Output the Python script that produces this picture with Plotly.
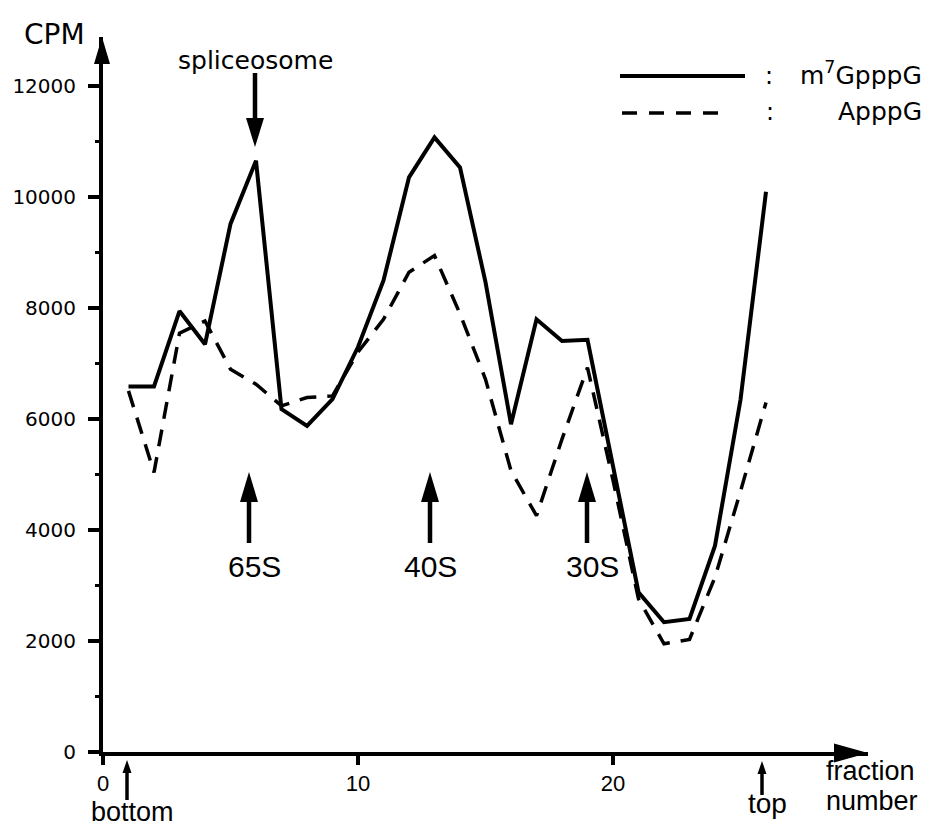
import plotly.graph_objects as go

# ---------------- data ----------------
fractions = list(range(1, 27))
m7GpppG = [6590, 6590, 7950, 7350, 9520, 10660, 6180, 5880, 6360, 7300,
           8500, 10360, 11080, 10540, 8470, 5910, 7800, 7410, 7430, 5160,
           2880, 2340, 2400, 3720, 6350, 10100]
ApppG = [6510, 5040, 7550, 7770, 6900, 6630, 6240, 6390, 6420, 7210,
         7800, 8650, 8950, 7900, 6720, 5070, 4260, 5640, 6930, 4900,
         2760, 1950, 2030, 3150, 4700, 6300]
y_tick_vals = [0, 2000, 4000, 6000, 8000, 10000, 12000]
x_tick_vals = [0, 10, 20]
series_names = ["m<sup>7</sup>GpppG", "ApppG"]
marker_labels = ["65S", "40S", "30S"]

# ---------------- geometry ----------------
W, H = 933, 827
ML, MR, MT, MB = 103, 65, 37, 75
X_MAX = 30
Y_MAX = 12890
PW = W - ML - MR
PH = H - MT - MB


def pxp(px):  # pixel x -> paper
    return (px - ML) / PW


def pyp(py):  # pixel y -> paper
    return (H - MB - py) / PH


BLACK = "black"
FONT_W = "DejaVu Sans"
FONT_N = "Liberation Sans, Arial, sans-serif"

fig = go.Figure()
fig.add_trace(go.Scatter(x=fractions, y=m7GpppG, mode="lines",
                         line=dict(color=BLACK, width=4),
                         name="m7GpppG", showlegend=False))
fig.add_trace(go.Scatter(x=fractions, y=ApppG, mode="lines",
                         line=dict(color=BLACK, width=3.5, dash="17px,11px"),
                         name="ApppG", showlegend=False))

shapes = []
annotations = []


def head(tipx, tipy, direction, length, width):
    hw = width / 2
    if direction == "up":
        path = f"M0,0 L{-hw},{-length} L{hw},{-length} Z"
    elif direction == "down":
        path = f"M0,0 L{-hw},{length} L{hw},{length} Z"
    else:  # right
        path = f"M0,0 L{-length},{hw} L{-length},{-hw} Z"
    shapes.append(dict(type="path", xref="paper", yref="paper",
                       xsizemode="pixel", ysizemode="pixel",
                       xanchor=pxp(tipx), yanchor=pyp(tipy), path=path,
                       fillcolor=BLACK, line=dict(width=0), layer="above"))


def shaft(x0, y0, x1, y1, w=4, dash=None):
    ln = dict(color=BLACK, width=w)
    if dash:
        ln["dash"] = dash
    shapes.append(dict(type="line", xref="paper", yref="paper",
                       x0=pxp(x0), y0=pyp(y0), x1=pxp(x1), y1=pyp(y1),
                       line=ln, layer="above"))


def text(t, px, py, size, family=FONT_N, xanchor="center"):
    annotations.append(dict(text=t, x=pxp(px), y=pyp(py), xref="paper", yref="paper",
                            showarrow=False, xanchor=xanchor, yanchor="middle",
                            font=dict(family=family, size=size, color=BLACK)))


# axis arrow heads
head(ML + PW, H - MB + 1, "right", 34, 19)
head(ML - 1, MT, "up", 27, 16)

# spliceosome arrow
shaft(255, 73, 255, 122, 4.5)
head(255, 147, "down", 29, 18)
text("spliceosome", 255, 61, 25, FONT_W)

# 65S / 40S / 30S arrows
for lab, ax_px, tx_px in zip(marker_labels, [249, 430, 587], [254, 430, 592]):
    shaft(ax_px, 498, ax_px, 543, 4.5)
    head(ax_px, 472, "up", 30, 18)
    text(lab, tx_px, 566, 30)

# bottom / top arrows
shaft(127, 768, 127, 800, 3.5)
head(127, 760, "up", 13, 9)
text("bottom", 132, 812, 27)
shaft(762, 770, 762, 795, 3.5)
head(762, 761, "up", 13, 9)
text("top", 767, 803, 28)
text("fraction", 870, 771, 27)
text("number", 872, 801, 27)

# CPM
text("CPM", 54, 34, 28, FONT_W)

# legend
shaft(620, 76, 745, 76, 4)
shaft(622, 113, 727, 113, 3.5, dash="15px,12px")
text(":", 769, 76, 24, FONT_W)
text(":", 770, 112, 24, FONT_W)
text(series_names[0], 924, 74, 25, FONT_W, xanchor="right")
text(series_names[1], 924, 111, 25, FONT_W, xanchor="right")

fig.update_layout(
    width=W, height=H, template="none",
    margin=dict(l=ML, r=MR, t=MT, b=MB, autoexpand=False),
    paper_bgcolor="white", plot_bgcolor="white",
    showlegend=False,
    shapes=shapes, annotations=annotations,
    xaxis=dict(range=[0, X_MAX], tickvals=x_tick_vals, ticktext=[str(v) for v in x_tick_vals],
               showgrid=False, zeroline=False, showline=True, linewidth=4, linecolor=BLACK,
               ticks="outside", ticklen=9, tickwidth=3.5, tickcolor=BLACK,
               tickfont=dict(family=FONT_N, size=22, color=BLACK),
               ticklabelstandoff=0, automargin=False, fixedrange=True),
    yaxis=dict(range=[0, Y_MAX], tickvals=y_tick_vals, ticktext=[str(v) for v in y_tick_vals],
               showgrid=False, zeroline=False, showline=True, linewidth=4, linecolor=BLACK,
               ticks="outside", ticklen=11, tickwidth=3.5, tickcolor=BLACK,
               tickfont=dict(family=FONT_W, size=20, color=BLACK),
               ticklabelstandoff=8, automargin=False, fixedrange=True,
               minor=dict(dtick=1000, ticks="outside", ticklen=4, tickwidth=3, tickcolor=BLACK,
                          showgrid=False)),
)

fig.write_html("out.html", config={"displayModeBar": False},
               post_script="document.body.style.margin='0';document.body.style.padding='0';"
                           "document.documentElement.style.overflow='hidden';")
